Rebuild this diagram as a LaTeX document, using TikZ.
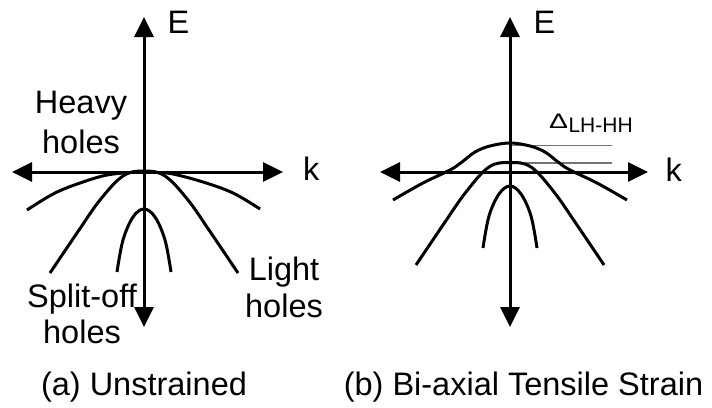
\documentclass[tikz,border=0pt]{standalone}
\usepackage{fontspec}
\setmainfont{Liberation Sans}
\usetikzlibrary{arrows.meta}
\tikzset{
  axis/.style={line width=3pt,{Triangle[width=19pt,length=20pt]}-{Triangle[width=19pt,length=20pt]}},
  band/.style={line width=3pt,smooth,tension=0.6},
  gap/.style={line width=1.3pt,draw=black!55},
  lbl/.style={font=\fontsize{32.5pt}{39pt}\selectfont,inner sep=0pt,anchor=base},
  sublbl/.style={font=\fontsize{21pt}{24pt}\selectfont,inner sep=0pt,anchor=base west},
}
\begin{document}
\begin{tikzpicture}[x=1pt,y=-1pt]
\useasboundingbox (0,0) rectangle (712,407);
% ---------- (a) unstrained ----------
\coordinate (aT) at (144,17);
\coordinate (aB) at (144,327);
\coordinate (aL) at (12,172);
\coordinate (aR) at (283,172);
\draw[axis] (aB) -- (aT);
\draw[axis] (aL) -- (aR);
% heavy holes
\draw[band] plot coordinates {(27,210) (55,193) (83,182) (107,175) (130,172.5) (144,171.5) (158,172.5) (173,174) (203,182) (233,193) (260,209)};
% light holes
\draw[band] plot coordinates {(50,273) (77,233) (100,200) (123,176) (144,171) (165,176) (188,200) (211,233) (238,273)};
% split-off
\draw[band] plot coordinates {(117,272) (123,240) (133,217) (144,209) (155,217) (165,240) (171,272)};
\node[lbl,anchor=base west] (aE) at (167.5,33) {E};
\node[lbl,anchor=base west] (ak) at (303,180) {k};
\node[lbl] (hh1) at (81,113) {Heavy};
\node[lbl] (hh2) at (81,153) {holes};
\node[lbl] (lh1) at (284,280) {Light};
\node[lbl] (lh2) at (284,317) {holes};
\node[lbl] (so1) at (82,307) {Split-off};
\node[lbl] (so2) at (82,343) {holes};
\node[lbl] (capa) at (144,395) {(a) Unstrained};
% ---------- (b) biaxial tensile strain ----------
\coordinate (bT) at (510,17);
\coordinate (bB) at (510,327);
\coordinate (bL) at (380,172);
\coordinate (bR) at (648,172);
\coordinate (g1a) at (510,145.5);
\coordinate (g1b) at (612,145.5);
\coordinate (g2a) at (510,163);
\coordinate (g2b) at (612,163);
\draw[gap] (g1a) -- (g1b);
\draw[gap] (g2a) -- (g2b);
\draw[axis] (bB) -- (bT);
\draw[axis] (bL) -- (bR);
% upper band
\draw[band] plot coordinates {(393,200) (423,183) (450,170) (462,162) (475,152) (490,146) (510,143) (530,146) (545,152) (558,162) (570,170) (597,183) (627,200)};
% second band
\draw[band] plot coordinates {(416,265) (443,225) (466,192) (489,167) (510,162.5) (531,167) (554,192) (577,225) (604,265)};
% split-off
\draw[band] plot coordinates {(483,248) (489,216) (499,194) (510,186) (521,194) (531,216) (537,248)};
\node[lbl,anchor=base west] (bE) at (533.5,33) {E};
\node[lbl,anchor=base west] (bk) at (665.5,181) {k};
\node[inner sep=0pt,anchor=base west,font=\fontsize{21pt}{24pt}\selectfont] (dl) at (549,128) {\scalebox{1.35}[1]{Δ}};
\node[sublbl] (dsub) at (dl.base east) [yshift=-4pt] {LH-HH};
\node[lbl] (capb) at (523.5,395) {(b) Bi-axial Tensile Strain};
\end{tikzpicture}
\end{document}
